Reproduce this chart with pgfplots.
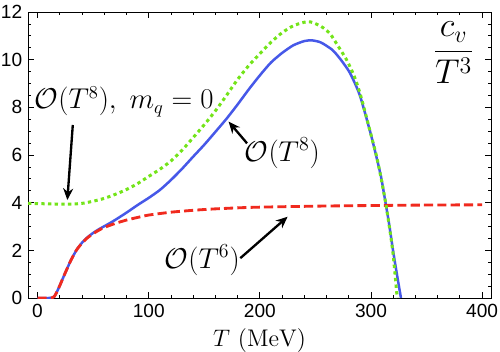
\documentclass[border=0pt]{standalone}
\usepackage{amsmath}
\usepackage{fontspec}
\usepackage{pgfplots}
\pgfplotsset{compat=1.18}
\usetikzlibrary{arrows.meta}
\newfontfamily\helv{Liberation Sans}

\definecolor{cvgreen}{RGB}{115,228,25}
\definecolor{cvblue}{RGB}{70,88,232}
\definecolor{cvred}{RGB}{240,42,30}

\begin{document}
\begin{tikzpicture}
\begin{axis}[
    scale only axis,
    width=277.8bp, height=171.6bp,
    xmin=-8.6, xmax=408, ymin=0, ymax=12,
    xtick={0,100,...,400}, ytick={0,2,...,12},
    minor x tick num=4, minor y tick num=3,
    tick align=inside, tick pos=both,
    major tick length=3.6bp, minor tick length=2bp,
    axis line style={line width=0.6bp},
    every tick/.style={black, line width=0.5bp},
    ticklabel style={font=\helv\fontsize{11.5}{13}\selectfont},
    /pgf/number format/assume math mode=true,
    xlabel={$T\ (\mathrm{MeV})$},
    label style={font=\fontsize{14.5}{16}\selectfont},
]
% O(T^8), full
\addplot[cvblue, line width=1.5bp, smooth, tension=0.4] coordinates {
(0,0)(10,0)(13,0.01)(15,0.06)(17,0.22)(20,0.52)(23,0.85)(26,1.17)(30,1.58)
(35,2.01)(40,2.32)(45,2.55)(50,2.73)(55,2.88)(60,3.01)(65,3.14)(70,3.28)
(80,3.58)(90,3.9)(100,4.2)(110,4.53)(120,4.95)(130,5.42)(140,5.93)(150,6.43)
(160,6.97)(170,7.52)(180,8.12)(190,8.75)(200,9.34)(210,9.88)(220,10.28)
(230,10.6)(240,10.78)(247,10.81)(255,10.72)(265,10.42)(272,10.05)(281,9.45)
(290,8.5)(300,6.85)(305,5.9)(309,5.1)(312,4.3)(316,3.2)(320,1.95)(323.5,0.95)(327,0)
};
% O(T^6)
\addplot[cvred, line width=1.7bp, dash pattern=on 5.5bp off 2.5bp, smooth, tension=0.4] coordinates {
(0,0)(10,0)(13,0.01)(15,0.06)(17,0.22)(20,0.52)(23,0.85)(26,1.17)(30,1.58)
(35,2.01)(40,2.3)(45,2.53)(50,2.7)(55,2.84)(60,2.96)(70,3.13)(80,3.27)
(90,3.38)(100,3.48)(120,3.6)(140,3.68)(160,3.74)(190,3.8)(220,3.83)
(260,3.86)(300,3.88)(350,3.9)(400,3.91)
};
% O(T^8), m_q = 0
\addplot[cvgreen, line width=1.8bp, dash pattern=on 2bp off 2bp, smooth, tension=0.4] coordinates {
(-8.6,3.97)(0,3.96)(10,3.95)(20,3.94)(30,3.94)(40,3.97)(50,4.06)(60,4.18)
(70,4.35)(80,4.55)(90,4.8)(100,5.1)(110,5.4)(120,5.75)(130,6.2)(140,6.73)
(150,7.27)(160,7.85)(170,8.5)(180,9.17)(190,9.75)(200,10.25)(210,10.73)
(220,11.13)(230,11.42)(240,11.57)(246,11.58)(255,11.4)(263,11.1)(270,10.6)
(278,10.0)(285,9.3)(291,8.45)(300,6.85)(305,5.95)(309,5.05)(313,4.05)
(317,2.85)(320,1.8)(323.6,0)
};

\node[font=\fontsize{16}{18}\selectfont] at (axis cs:77.9,8.24) {$\mathcal{O}(T^8),\ m_q=0$};
\draw[-{Stealth[length=7bp,width=6bp]}, line width=1.4bp] (axis cs:31.7,7.26) -- (axis cs:26.8,4.11);
\node[font=\fontsize{17}{19}\selectfont] at (axis cs:220.3,6.08) {$\mathcal{O}(T^8)$};
\draw[-{Stealth[length=7bp,width=6bp]}, line width=1.4bp] (axis cs:188.5,6.49) -- (axis cs:171.9,7.40);
\node[font=\fontsize{17}{19}\selectfont] at (axis cs:148.2,1.59) {$\mathcal{O}(T^6)$};
\draw[-{Stealth[length=7bp,width=6bp]}, line width=1.4bp] (axis cs:182.4,1.67) -- (axis cs:225,3.41);
\node[font=\fontsize{21}{23}\selectfont] at (axis cs:374.3,10.28) {$\dfrac{c_v}{T^3}$};

\coordinate (o) at (rel axis cs:0,0);
\end{axis}
\pgfresetboundingbox
\path[use as bounding box] ([shift={(-16.8bp,-32.4bp)}]o) rectangle ++(300bp,211.2bp);
\end{tikzpicture}
\end{document}
